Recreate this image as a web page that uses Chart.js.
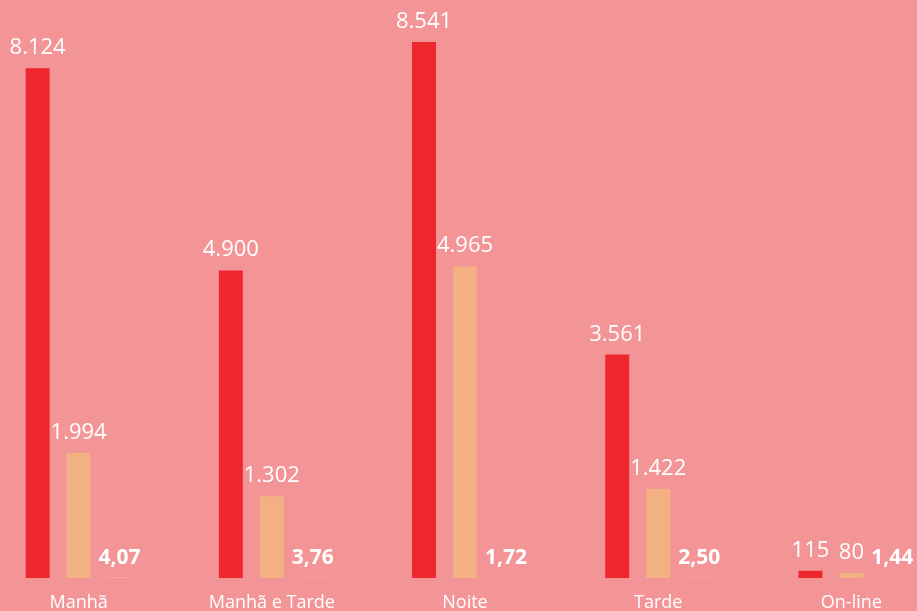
<!DOCTYPE html>
<html>
<head>
<meta charset="utf-8">
<script src="https://cdn.jsdelivr.net/npm/chart.js@4/dist/chart.umd.min.js"></script>
<style>
html,body{margin:0;padding:0;background:#F39597;overflow:hidden;width:917px;height:611px;}
#wrap{position:absolute;left:-18px;top:0;width:966px;height:611px;}
</style>
</head>
<body>
<div id="wrap"><canvas id="c"></canvas></div>
<script>
const categories = ["Manhã", "Manhã e Tarde", "Noite", "Tarde", "On-line"];
const seriesA = [8124, 4900, 8541, 3561, 115];
const seriesB = [1994, 1302, 4965, 1422, 80];
const seriesC = [4.07, 3.76, 1.72, 2.50, 1.44];

function fmtInt(v){ return v.toLocaleString('de-DE'); }
function fmtDec(v){ return v.toFixed(2).replace('.', ','); }

const labelPlugin = {
  id: 'barLabels',
  afterDatasetsDraw(chart){
    const ctx = chart.ctx;
    ctx.save();
    ctx.fillStyle = '#FFFFFF';
    ctx.textAlign = 'center';
    ctx.textBaseline = 'alphabetic';
    chart.data.datasets.forEach((ds, i) => {
      const meta = chart.getDatasetMeta(i);
      ctx.font = i === 2 ? 'bold 21px "Open Sans"' : '22px "Open Sans"';
      meta.data.forEach((bar, j) => {
        const txt = i === 2 ? fmtDec(ds.data[j]) : fmtInt(ds.data[j]);
        ctx.fillText(txt, bar.x, bar.y - 14);
      });
    });
    ctx.restore();
  }
};

new Chart(document.getElementById('c'), {
  type: 'bar',
  data: {
    labels: categories,
    datasets: [
      { data: seriesA, backgroundColor: '#EE262D' },
      { data: seriesB, backgroundColor: '#F3B083' },
      { data: seriesC, backgroundColor: '#FBD0C8' }
    ]
  },
  options: {
    responsive: true,
    maintainAspectRatio: false,
    animation: false,
    layout: { padding: 0 },
    datasets: { bar: { categoryPercentage: 0.636, barPercentage: 0.585 } },
    plugins: { legend: { display: false }, tooltip: { enabled: false } },
    scales: {
      x: {
        grid: { display: false },
        border: { display: false },
        ticks: { color: '#FFFFFF', font: { family: 'Open Sans', size: 18 }, padding: 6, maxRotation: 0 },
        afterFit(scale){ scale.height = 33; }
      },
      y: { display: false, min: 0, max: 9210 }
    }
  },
  plugins: [labelPlugin]
});
</script>
</body>
</html>
